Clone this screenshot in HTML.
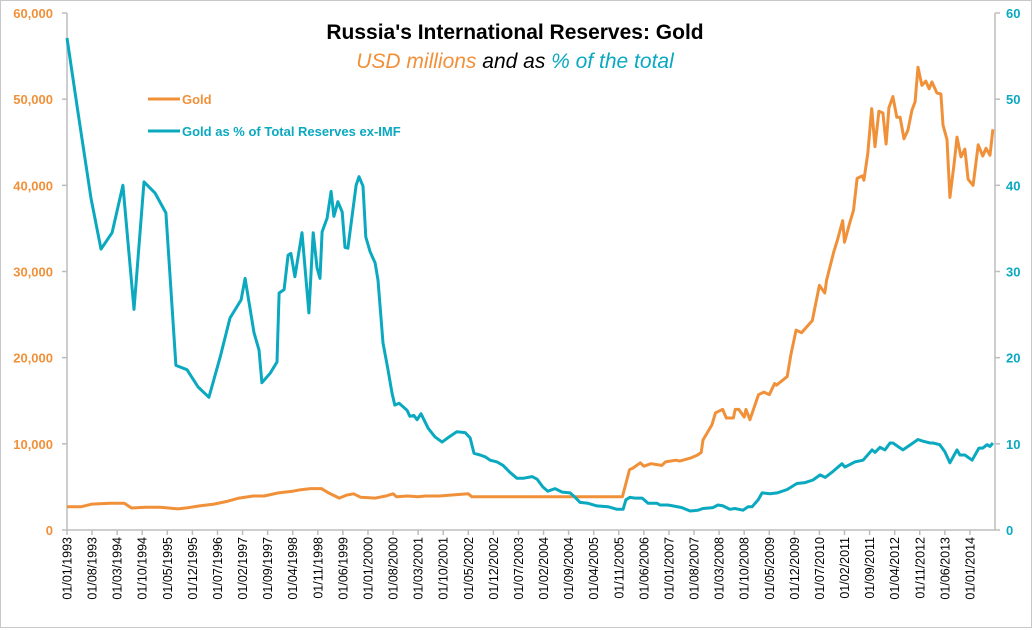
<!DOCTYPE html>
<html><head><meta charset="utf-8">
<style>
html,body{margin:0;padding:0;background:#fff;}
svg{display:block;font-family:"Liberation Sans",sans-serif;}
</style></head>
<body>
<svg id="chart" width="1035" height="630" viewBox="0 0 1035 630" xmlns="http://www.w3.org/2000/svg">
<rect x="0.5" y="0.5" width="1031" height="627" fill="#fff" stroke="#c8c8c8"/>
<text x="515" y="39" text-anchor="middle" font-size="21" font-weight="bold" fill="#000">Russia's International Reserves: Gold</text>
<text x="515" y="68" text-anchor="middle" font-size="21" font-style="italic"><tspan fill="#F0913A">USD millions</tspan><tspan fill="#000"> and as </tspan><tspan fill="#0AA9C0">% of the total</tspan></text>
<g>
<line x1="148" y1="99" x2="180" y2="99" stroke="#F0913A" stroke-width="3"/>
<text x="182" y="104" font-size="13" font-weight="bold" fill="#F0913A">Gold</text>
<line x1="148" y1="131" x2="180" y2="131" stroke="#0AA9C0" stroke-width="3"/>
<text x="182" y="136" font-size="13" font-weight="bold" fill="#0AA9C0">Gold as % of Total Reserves ex-IMF</text>
</g>
<g id="axes"></g>
<g id="series"></g>
</svg>
<script>
// Month offsets since Jan 1993
var goldMonths=[0,4,7,12,16,18,22,26,31,34,37,41,45,48,52,55,59,63,65,68,71,73,76,78,80,82,86,89,91,92,95,98,100,104,107,112,113,155,157,158,160,161,163,166,167,170,171,174,176,177,177.5,180,181,183,184,186,186.5,187.5,189,189.5,190.6,193,194.5,196,197.5,198,201,202,203.5,205,208,210,211.5,212,214,215,216.5,217,218.5,219.5,220.5,222,222.4,223.5,224.6,225.5,226.6,227.7,228.6,229.4,230.5,231.6,232.5,233.6,234.7,235.8,236.7,237.5,238.6,239.7,240.6,241.4,242.8,243.9,244.5,245.6,246.4,247.6,248.4,249.5,250.6,251.5,252.9,254.3,255.6,256.5,257.6,258.4];
var goldValues=[2700,2700,3000,3100,3100,2550,2650,2650,2450,2600,2800,3000,3350,3700,3950,3950,4300,4500,4650,4800,4800,4300,3700,4050,4200,3800,3700,3950,4200,3850,3950,3850,3950,3950,4050,4200,3850,3850,7000,7200,7800,7400,7700,7500,7900,8100,8000,8350,8700,9000,10450,12200,13600,14000,13000,13000,14000,14000,13100,14000,12800,15700,16000,15700,17000,16800,17800,20300,23200,22900,24300,28400,27500,29000,32300,33600,35900,33400,35700,37100,40800,41100,40600,43700,48900,44500,48600,48400,44800,49000,50300,47900,47900,45400,46400,48700,49700,53700,51600,52100,51200,52000,50700,50600,47000,45300,38600,42600,45600,43300,44200,40700,40000,44700,43400,44300,43500,46500];
var pctMonths=[0,3,6.7,9.5,12.6,15.6,18.7,21.5,24.6,27.6,30.4,33.5,36.6,39.6,42.7,45.5,48.6,49.7,52.2,53.6,54.4,56.7,58.6,59.2,60.6,61.7,62.5,63.6,65.6,67.5,68.7,69.8,70.6,71.2,72.6,73.7,74.5,75.6,76.8,77.6,78.4,80.7,81.5,82.6,83.4,84.6,86,86.8,88.2,89.6,90.7,91.5,92.7,94.9,95.7,96.8,97.7,98.8,100.8,102.7,104.7,106.3,108.8,111.1,112.5,113.6,115.3,116.7,118.1,120,121.7,123.6,125.6,127.3,129.8,131.2,132.8,134.2,136.2,138.2,140.4,141.8,143.2,145.4,147.9,151,153.5,155.2,156,157.1,158.5,160.5,162.2,164.7,165.5,167.7,169.1,171.6,173.9,176.1,177.5,180.3,181.7,183.1,185,186.4,188.7,190.1,191.2,192.9,194,196.2,198.2,201,203.7,206,208.2,210.2,211.6,213.8,216.3,217.1,219.9,222.2,224.7,225.5,226.9,228.3,229.7,230.5,233.3,235.8,237.5,238.9,240.9,241.7,243.6,245,246.4,248.4,249.2,250.6,252.6,254.5,255.6,256.8,257.6,258.4];
var pctValues=[57.1,48.7,38.5,32.6,34.5,40.0,25.6,40.4,39.1,36.8,19.1,18.6,16.6,15.4,20.0,24.6,26.7,29.2,22.9,20.9,17.1,18.2,19.5,27.5,27.9,31.9,32.1,29.4,34.5,25.2,34.5,30.4,29.2,34.6,36.2,39.3,36.4,38.1,36.9,32.8,32.7,40.0,41.0,39.9,34.0,32.3,31.0,29.0,21.7,18.6,15.9,14.5,14.7,13.9,13.2,13.3,12.8,13.5,11.8,10.8,10.2,10.7,11.4,11.3,10.7,8.9,8.7,8.5,8.1,7.9,7.5,6.7,6.0,6.0,6.2,5.9,5.0,4.5,4.8,4.4,4.3,3.8,3.2,3.1,2.8,2.7,2.4,2.4,3.5,3.8,3.7,3.7,3.1,3.1,2.9,2.9,2.8,2.6,2.2,2.3,2.5,2.6,2.9,2.8,2.4,2.5,2.3,2.7,2.7,3.5,4.3,4.2,4.3,4.7,5.4,5.5,5.8,6.4,6.1,6.8,7.7,7.3,7.9,8.1,9.3,9.0,9.6,9.3,10.1,10.1,9.3,10.0,10.5,10.3,10.1,10.1,9.9,9.1,7.8,9.3,8.7,8.7,8.1,9.5,9.5,9.9,9.7,10.1];
var leftTicks=[0,10000,20000,30000,40000,50000,60000];
var leftTickLabels=["0","10,000","20,000","30,000","40,000","50,000","60,000"];
var rightTicks=[0,10,20,30,40,50,60];
var xTickLabels=["01/01/1993","01/08/1993","01/03/1994","01/10/1994","01/05/1995","01/12/1995","01/07/1996","01/02/1997","01/09/1997","01/04/1998","01/11/1998","01/06/1999","01/01/2000","01/08/2000","01/03/2001","01/10/2001","01/05/2002","01/12/2002","01/07/2003","01/02/2004","01/09/2004","01/04/2005","01/11/2005","01/06/2006","01/01/2007","01/08/2007","01/03/2008","01/10/2008","01/05/2009","01/12/2009","01/07/2010","01/02/2011","01/09/2011","01/04/2012","01/11/2012","01/06/2013","01/01/2014"];

var X0=67,X1=995,Y0=530,Y1=13,MMAX=259;
function xS(m){return X0+m*(X1-X0)/MMAX;}
function yL(v){return Y0-v*(Y0-Y1)/60000;}
function yR(v){return Y0-v*(Y0-Y1)/60;}
var NS="http://www.w3.org/2000/svg";
function mk(tag,attrs,parent){var e=document.createElementNS(NS,tag);for(var k in attrs)e.setAttribute(k,attrs[k]);parent.appendChild(e);return e;}
var axes=document.getElementById('axes'),series=document.getElementById('series');

var a=mk('line',{x1:X0,y1:Y1,x2:X0,y2:Y0,stroke:'#bdbdbd','stroke-width':1.5},axes);


a=mk('line',{x1:X1,y1:Y1,x2:X1,y2:Y0,stroke:'#bdbdbd','stroke-width':1.5},axes);


a=mk('line',{x1:X0,y1:Y0,x2:X1,y2:Y0,stroke:'#bdbdbd','stroke-width':1.5},axes);



leftTicks.forEach(function(v,i){
  var y=yL(v);
  var t=mk('line',{x1:X0-5,y1:y,x2:X0,y2:y,stroke:'#bdbdbd','stroke-width':1.5},axes);
  
  
  var tx=mk('text',{x:53,y:y+5,'text-anchor':'end','font-size':13,'font-weight':'bold',fill:'#F0913A'},axes);
  tx.textContent=leftTickLabels[i];
  
  
});
rightTicks.forEach(function(v){
  var y=yR(v);
  var t=mk('line',{x1:X1,y1:y,x2:X1+5,y2:y,stroke:'#bdbdbd','stroke-width':1.5},axes);
  
  
  var tx=mk('text',{x:1006,y:y+5,'text-anchor':'start','font-size':13,'font-weight':'bold',fill:'#0AA9C0'},axes);
  tx.textContent=String(v);
  
  
});
xTickLabels.forEach(function(lbl,i){
  var x=xS(i*7);
  var t=mk('line',{x1:x,y1:Y0,x2:x,y2:Y0+5,stroke:'#bdbdbd','stroke-width':1.5},axes);
  
  
  var tx=mk('text',{x:0,y:0,'text-anchor':'end','font-size':12.5,fill:'#000',transform:'translate('+(x+4.5)+','+(Y0+7)+') rotate(-90)'},axes);
  tx.textContent=lbl;
  
  
});

var d='';goldMonths.forEach(function(m,i){d+=(i?'L':'M')+xS(m).toFixed(1)+','+yL(goldValues[i]).toFixed(1);});
var p=mk('path',{d:d,fill:'none',stroke:'#F0913A','stroke-width':3,'stroke-linejoin':'round'},series);


d='';pctMonths.forEach(function(m,i){d+=(i?'L':'M')+xS(m).toFixed(1)+','+yR(pctValues[i]).toFixed(1);});
p=mk('path',{d:d,fill:'none',stroke:'#0AA9C0','stroke-width':3,'stroke-linejoin':'round'},series);


</script>
</body></html>
